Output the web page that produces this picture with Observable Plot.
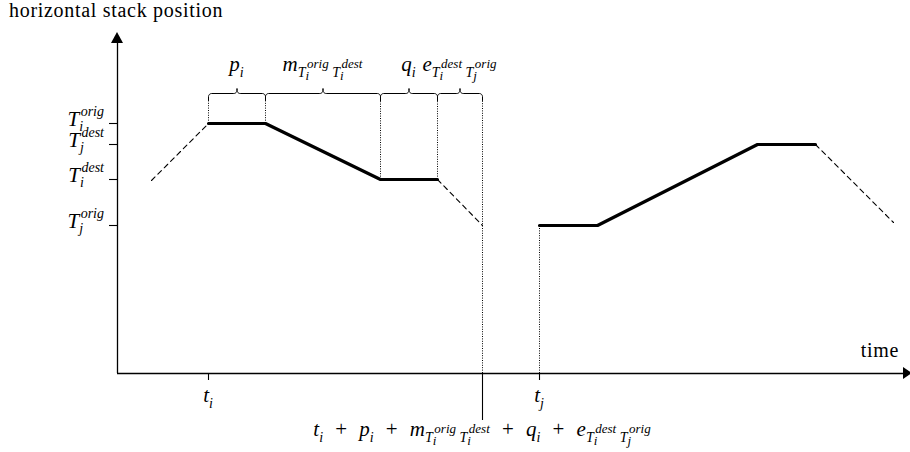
<!DOCTYPE html>
<html><head><meta charset="utf-8">
<script src="https://cdn.jsdelivr.net/npm/d3@7"></script>
<script src="https://cdn.jsdelivr.net/npm/@observablehq/plot@0.6"></script>
<style>body{margin:0;background:#fff} #chart{position:relative;width:910px;height:452px} #chart svg{position:absolute;left:0;top:0}</style>
</head><body><div id="chart"></div>
<script>
// ---------------- data ----------------
const yTickValues = [250, 229, 194, 148];
const yTickLabels = ["T_i^{orig}", "T_j^{dest}", "T_i^{dest}", "T_j^{orig}"];
const xTickValues = [91, 422];
const xTickLabels = ["t_i", "t_j"];
const phaseBounds = [91, 148, 263, 320, 365];
const phaseLabels = ["p_i", "m_{T_i^{orig} T_i^{dest}}", "q_i", "e_{T_i^{dest} T_j^{orig}}"];
const arrivalTime = 365;
const arrivalLabel = "t_i + p_i + m_{T_i^{orig} T_i^{dest}} + q_i + e_{T_i^{dest} T_j^{orig}}";
const truckITimes = [91, 148, 263, 320];
const truckIPos = [250, 250, 194, 194];
const truckIBeforeTimes = [34, 91];
const truckIBeforePos = [193, 250];
const truckIAfterTimes = [320, 365];
const truckIAfterPos = [194, 148];
const truckJTimes = [422, 480, 640, 698];
const truckJPos = [148, 148, 229, 229];
const truckJAfterTimes = [698, 776];
const truckJAfterPos = [229, 151];
const yAxisTitle = "horizontal stack position";
const xAxisTitle = "time";

// ---------------- helpers ----------------
const FONT = "'Liberation Serif', 'Tinos', 'Times New Roman', serif";
const setFont = sel => { sel.node().style.setProperty("font-family", FONT, "important"); return sel; };
const pts = (xs, ys) => xs.map((x, k) => ({x, y: ys[k]}));
const BRACE_BOTTOM = 273, BRACE_MID = 280, BRACE_TIP = 285, R = 3.2;
function bracePoints(x0, x1, id) {
  const out = [];
  const arc = (cx, cy, a0, a1) => {
    for (let k = 0; k <= 8; k++) {
      const a = (a0 + (a1 - a0) * k / 8) * Math.PI / 180;
      out.push({x: cx + R * Math.cos(a), y: cy + R * Math.sin(a), id});
    }
  };
  const xm = (x0 + x1) / 2;
  out.push({x: x0, y: BRACE_BOTTOM, id});
  arc(x0 + R, BRACE_MID - R, 180, 90);
  arc(xm - R, BRACE_MID + R, -90, 0);
  out.push({x: xm, y: BRACE_TIP, id});
  arc(xm + R, BRACE_MID + R, 180, 270);
  arc(x1 - R, BRACE_MID - R, 90, 0);
  out.push({x: x1, y: BRACE_BOTTOM, id});
  return out;
}
const braces = phaseLabels.flatMap((_, k) => bracePoints(phaseBounds[k], phaseBounds[k + 1], k));
const braceMids = phaseLabels.map((_, k) => (phaseBounds[k] + phaseBounds[k + 1]) / 2);

const thick = {x: "x", y: "y", stroke: "black", strokeWidth: 3.2, strokeLinejoin: "miter"};
const dashed = {x: "x", y: "y", stroke: "black", strokeWidth: 1.1, strokeDasharray: "5,4"};
const dotted = {stroke: "black", strokeWidth: 1, strokeDasharray: "1,1.4"};

const plotSvg = Plot.plot({
  width: 910,
  height: 452,
  x: {type: "linear", domain: [0, 791], range: [117, 908], axis: null},
  y: {type: "linear", domain: [0, 341], range: [373, 32], axis: null},
  style: {background: "white"},
  marks: [
    Plot.ruleX([0], {y1: 0, y2: 332, stroke: "black", strokeWidth: 1.3}),
    Plot.ruleY([0], {x1: 0, x2: 788, stroke: "black", strokeWidth: 1.3}),
    Plot.areaX([{y: 330, x1: -6, x2: 6}, {y: 341, x1: 0, x2: 0}], {y: "y", x1: "x1", x2: "x2", fill: "black"}),
    Plot.areaY([{x: 786, y1: -6, y2: 6}, {x: 795, y1: 0, y2: 0}], {x: "x", y1: "y1", y2: "y2", fill: "black"}),
    Plot.ruleY(yTickValues, {x1: -8, x2: 0, stroke: "black", strokeWidth: 1.1}),
    Plot.ruleX(xTickValues, {y1: 0, y2: -7, stroke: "black", strokeWidth: 1.1}),
    Plot.ruleX([arrivalTime], {y1: 0, y2: -47, stroke: "black", strokeWidth: 1.1}),
    Plot.ruleX(truckITimes, {y1: truckIPos, y2: BRACE_BOTTOM, ...dotted}),
    Plot.ruleX([arrivalTime], {y1: 0, y2: BRACE_BOTTOM, ...dotted}),
    Plot.ruleX([truckJTimes[0]], {y1: 0, y2: truckJPos[0], ...dotted}),
    Plot.line(pts(truckIBeforeTimes, truckIBeforePos), dashed),
    Plot.line(pts(truckIAfterTimes, truckIAfterPos), dashed),
    Plot.line(pts(truckJAfterTimes, truckJAfterPos), dashed),
    Plot.line(pts(truckITimes, truckIPos), thick),
    Plot.line(pts(truckJTimes, truckJPos), thick),
    Plot.line(braces, {x: "x", y: "y", z: "id", stroke: "black", strokeWidth: 1, curve: "linear"})
  ]
});
const chart = document.getElementById("chart");
chart.appendChild(plotSvg);
const sx = v => plotSvg.scale("x").apply(v);
const sy = v => plotSvg.scale("y").apply(v);

// ---------------- text layer (positions from Plot's scales) ----------------
const layer = d3.select(chart).append("svg").attr("width", 910).attr("height", 452);
setFont(layer);
const SIZES = [21, 14, 13];
const SUB = [5.5, 3, 2.5];
const SUP = [10, 9, 5];
function parseSeq(s, p) {
  const out = [];
  while (p.i < s.length && s[p.i] !== "}") {
    const c = s[p.i];
    if (c === " ") { out.push({space: true}); p.i++; continue; }
    let base;
    if (c === "{") { p.i++; base = {group: parseSeq(s, p)}; p.i++; }
    else { base = {ch: c}; p.i++; }
    const atom = {base};
    while (p.i < s.length && (s[p.i] === "_" || s[p.i] === "^")) {
      const k = s[p.i] === "_" ? "sub" : "sup"; p.i++;
      atom[k] = parseArg(s, p);
    }
    out.push(atom);
  }
  return out;
}
function parseArg(s, p) {
  if (s[p.i] === "{") { p.i++; const g = parseSeq(s, p); p.i++; return g; }
  return [{base: {ch: s[p.i++]}}];
}
function renderChar(el, ch, level, shift, st) {
  const t = setFont(el.append("tspan").attr("font-size", SIZES[level]).text(ch));
  if (/[A-Za-z]/.test(ch)) t.attr("font-style", "italic");
  if (shift !== st.shift) { t.attr("dy", shift - st.shift); st.shift = shift; }
  if (st.dx) { t.attr("dx", st.dx); st.dx = 0; }
  return t.node().getComputedTextLength();
}
function renderSeq(el, atoms, level, shift, st) {
  let w = 0;
  for (const a of atoms) {
    if (a.space) { const sw = SIZES[level] * (level === 0 ? 0.58 : 0.25); st.dx += sw; w += sw; continue; }
    w += a.base.group ? renderSeq(el, a.base.group, level, shift, st) : renderChar(el, a.base.ch, level, shift, st);
    if (a.sub || a.sup) {
      const L = Math.min(level + 1, 2);
      let ws = 0, wp = 0;
      if (a.sub) ws = renderSeq(el, a.sub, L, shift + SUB[level], st);
      if (a.sup) {
        const kern = 1.5;
        st.dx += kern - ws;
        wp = renderSeq(el, a.sup, L, shift - SUP[level], st) + kern;
        if (ws > wp) st.dx += ws - wp;
      }
      w += Math.max(ws, wp);
    }
  }
  return w;
}
function mathText(src, x, y, anchor) {
  const t = setFont(layer.append("text").attr("x", x).attr("y", y).attr("text-anchor", anchor).attr("fill", "black"));
  renderSeq(t, parseSeq(src, {i: 0}), 0, 0, {shift: 0, dx: 0});
  return t;
}
function plainText(s, x, y, anchor) {
  return setFont(layer.append("text").attr("x", x).attr("y", y).attr("text-anchor", anchor)
    .attr("font-size", 20).attr("fill", "black").attr("letter-spacing", 0.7).text(s));
}
phaseLabels.forEach((s, k) => mathText(s, sx(braceMids[k]), sy(BRACE_TIP) - 17, "middle"));
yTickLabels.forEach((s, k) => mathText(s, sx(0) - 13, sy(yTickValues[k]) + 2.5, "end"));
xTickLabels.forEach((s, k) => mathText(s, sx(xTickValues[k]), sy(0) + 29, "middle"));
mathText(arrivalLabel, sx(arrivalTime), sy(0) + 63, "middle");
plainText(yAxisTitle, sx(0) - 108, sy(341) - 15, "start");
plainText(xAxisTitle, sx(788) - 6, sy(0) - 16, "end");
</script>
</body></html>
